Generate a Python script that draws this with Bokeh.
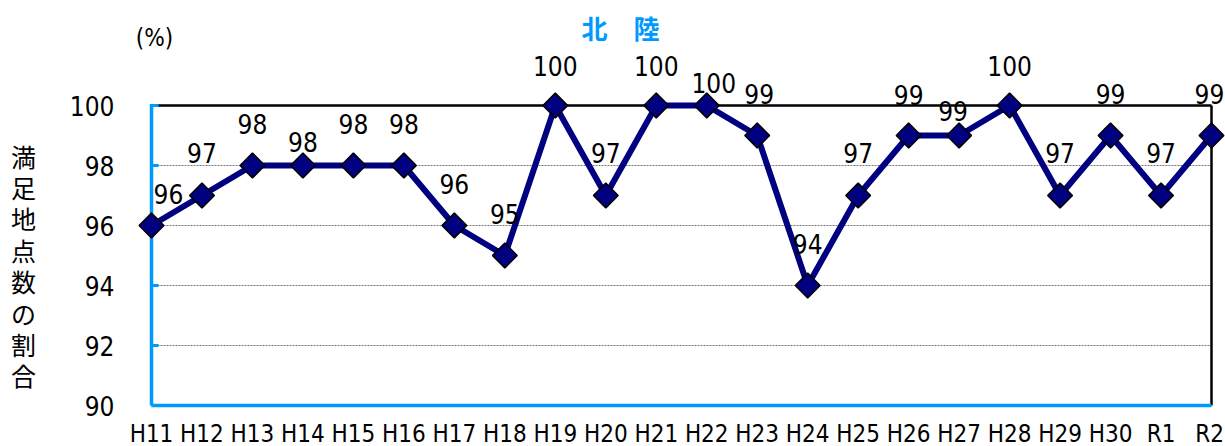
from bokeh.plotting import figure
from bokeh.models import ColumnDataSource, Range1d
from bokeh.core.properties import value
from bokeh.embed import file_html
from bokeh.resources import INLINE

# ---- data ----
years = ["H11", "H12", "H13", "H14", "H15", "H16", "H17", "H18", "H19", "H20", "H21",
         "H22", "H23", "H24", "H25", "H26", "H27", "H28", "H29", "H30", "R1", "R2"]
values = [96, 97, 98, 98, 98, 98, 96, 95, 100, 97, 100,
          100, 99, 94, 97, 99, 99, 100, 97, 99, 97, 99]
y_ticks = [90, 92, 94, 96, 98, 100]
title_text = "北　陸"
y_label_text = "満足地点数の割合"
unit_text = "(%)"

# ---- style / placement (pixels) ----
label_dx = [17, 0, 0, 0, 0, 0, 0, 0, 0, 0, 0, 7, 2, 0, 0, 0, -6, 0, 0, 0, 0, -2]
label_dy = [32, 43, 42, 24, 42, 42, 42, 42, 40, 43, 40, 23, 42, 42, 43, 41, 25, 40, 43, 42, 43, 42]
xlab_dx = [0] * 21 + [-2]

NUMFONT = value("DejaVu Sans Condensed, sans-serif")
JPFONT = value("Noto Sans CJK JP")
NAVY = "#000080"
BLUE = "#0099FF"

W, H = 1225, 446
PL, PR, PT, PB = 151, 1211, 105, 405   # plot-area edges in canvas pixels

n = len(years)
xs = list(range(n))
ymin, ymax = y_ticks[0], y_ticks[-1]
ppx = (PR - PL) / (n - 1)          # pixels per x unit
ppy = (PB - PT) / (ymax - ymin)    # pixels per y unit


def dx(px):
    return px / ppx


def dy(px):
    return px / ppy


p = figure(width=W, height=H, output_backend="svg", toolbar_location=None,
           x_range=Range1d(-dx(PL), (n - 1) + dx(W - PR)),
           y_range=Range1d(ymin - dy(H - PB), ymax + dy(PT)),
           x_axis_type=None, y_axis_type=None, min_border=0)
p.outline_line_color = None
p.grid.visible = False
p.background_fill_color = "white"
p.border_fill_color = "white"

grid = y_ticks[1:-1]
# dotted grid lines
p.segment(x0=[0] * len(grid), y0=grid, x1=[n - 1] * len(grid), y1=grid,
          line_color="#777777", line_width=1, line_dash="2 1")
# top and right border (black)
p.segment(x0=[0, n - 1], y0=[ymax, ymin], x1=[n - 1, n - 1], y1=[ymax, ymax],
          line_color="black", line_width=2.5)
# axes (blue)
p.segment(x0=[0, 0], y0=[ymin, ymin], x1=[0, n - 1], y1=[ymax + dy(1.5), ymin],
          line_color=BLUE, line_width=3.5)
# y ticks (inward)
p.segment(x0=[0] * len(y_ticks), y0=y_ticks, x1=[dx(7)] * len(y_ticks), y1=y_ticks,
          line_color=BLUE, line_width=3)

# tick labels
p.text(x=[-dx(37)] * len(y_ticks), y=y_ticks, text=[str(t) for t in y_ticks],
       text_align="right", text_baseline="middle", text_font=NUMFONT,
       text_font_size="26px", text_color="black")
p.text(x=[x + dx(a) for x, a in zip(xs, xlab_dx)], y=[ymin - dy(28)] * n, text=years,
       text_align="center", text_baseline="middle", text_font=NUMFONT,
       text_font_size="24px", text_color="black")

# axis label (vertical, one character per line)
chars = list(y_label_text)
step = 31.4
top_char = 155
p.text(x=[-dx(PL - 23)] * len(chars),
       y=[ymax + dy(PT - (top_char + i * step)) for i in range(len(chars))],
       text=chars, text_align="center", text_baseline="middle", text_font=JPFONT,
       text_font_size="25px", text_color="black")

# title and unit
p.text(x=[dx(620 - PL)], y=[ymax + dy(PT - 27)], text=[title_text],
       text_align="center", text_baseline="middle", text_font=JPFONT,
       text_font_size="26px", text_font_style="bold", text_color=BLUE)
p.text(x=[dx(154 - PL)], y=[ymax + dy(PT - 37)], text=[unit_text],
       text_align="center", text_baseline="middle", text_font=NUMFONT,
       text_font_size="24px", text_color="black")

# series
src = ColumnDataSource(dict(
    x=xs, y=values, txt=[str(v) for v in values],
    lx=[x + dx(a) for x, a in zip(xs, label_dx)],
    ly=[v + dy(b) for v, b in zip(values, label_dy)],
))
p.line("x", "y", source=src, line_color=NAVY, line_width=6)
p.scatter("x", "y", source=src, marker="square", angle=0.785398, size=17.5,
          fill_color=NAVY, line_color="black", line_width=1.5)
p.text("lx", "ly", text="txt", source=src, text_align="center", text_baseline="middle",
       text_font=NUMFONT, text_font_size="26px", text_color="black")

open("out.html", "w").write(file_html(p, INLINE))
